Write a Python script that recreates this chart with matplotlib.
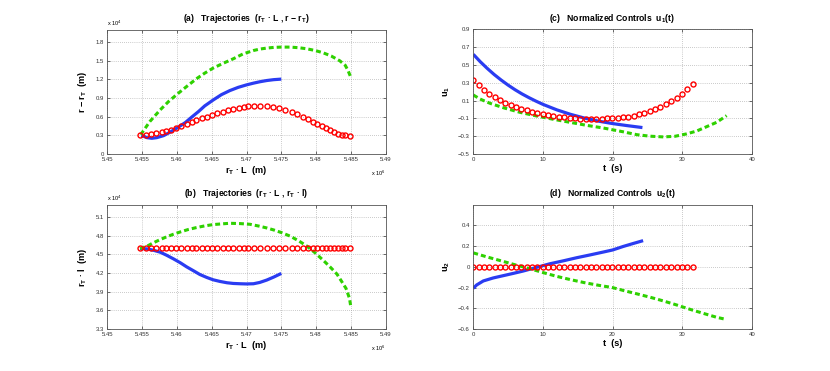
import matplotlib
matplotlib.use("Agg")
import matplotlib.pyplot as plt

plt.rcParams['font.family'] = ['Liberation Sans', 'DejaVu Sans']
plt.rcParams['mathtext.fontset'] = 'custom'
plt.rcParams['mathtext.rm'] = 'Liberation Sans'
plt.rcParams['mathtext.bf'] = 'Liberation Sans:bold'
plt.rcParams['mathtext.it'] = 'Liberation Sans:italic'

# ---- trajectories (x in 1e6 m, y in 1e4 m) ----
# red circles (42 nodes)
x_red = [5.4547, 5.4555, 5.4563, 5.4570, 5.4578, 5.4585, 5.4592, 5.4599, 5.4606, 5.4614,
         5.4621, 5.4628, 5.4636, 5.4643, 5.4650, 5.4658, 5.4666, 5.4673, 5.4681, 5.4689,
         5.4696, 5.4702, 5.4711, 5.4719, 5.4729, 5.4738, 5.4747, 5.4756, 5.4765, 5.4773,
         5.4781, 5.4788, 5.4795, 5.4802, 5.4809, 5.4814, 5.4820, 5.4826, 5.4831, 5.4837,
         5.4842, 5.4848]
h_red = [0.306, 0.312, 0.323, 0.333, 0.350, 0.371, 0.392, 0.419, 0.446, 0.479,
         0.511, 0.543, 0.575, 0.602, 0.629, 0.656, 0.683, 0.704, 0.726, 0.742,
         0.758, 0.769, 0.774, 0.774, 0.769, 0.758, 0.737, 0.710, 0.677, 0.640,
         0.602, 0.565, 0.522, 0.484, 0.446, 0.414, 0.382, 0.355, 0.328, 0.312,
         0.301, 0.290]
l_red = [4.6, 4.6, 4.6, 4.6, 4.6, 4.6, 4.6, 4.6, 4.6, 4.6,
         4.6, 4.6, 4.6, 4.6, 4.6, 4.6, 4.6, 4.6, 4.6, 4.6,
         4.6, 4.6, 4.6, 4.6, 4.6, 4.6, 4.6, 4.6, 4.6, 4.6,
         4.6, 4.6, 4.6, 4.6, 4.6, 4.6, 4.6, 4.6, 4.6, 4.6,
         4.6, 4.6]

# blue solid
x_blue_a = [5.4549, 5.4557, 5.4564, 5.4571, 5.4581, 5.4590, 5.4601, 5.4612, 5.4621, 5.4631,
            5.4640, 5.4652, 5.4664, 5.4676, 5.4688, 5.4700, 5.4710, 5.4719, 5.4729, 5.4739,
            5.4750]
h_blue = [0.300, 0.263, 0.253, 0.263, 0.296, 0.350, 0.425, 0.505, 0.591, 0.683,
          0.774, 0.868, 0.955, 1.020, 1.072, 1.112, 1.140, 1.162, 1.182, 1.196,
          1.205]
x_blue_b = [5.4547, 5.4557, 5.4566, 5.4576, 5.4585, 5.4595, 5.4605, 5.4614, 5.4624, 5.4633,
            5.4643, 5.4652, 5.4662, 5.4672, 5.4681, 5.4691, 5.4700, 5.4710, 5.4719, 5.4729,
            5.4739, 5.4750]
l_blue = [4.595, 4.589, 4.568, 4.536, 4.488, 4.429, 4.365, 4.300, 4.236, 4.177,
          4.129, 4.092, 4.065, 4.044, 4.033, 4.028, 4.025, 4.028, 4.049, 4.087,
          4.135, 4.194]

# green dashed
x_green_a = [5.4548, 5.4561, 5.4576, 5.4588, 5.4601, 5.4614, 5.4628, 5.4640, 5.4652, 5.4667,
             5.4681, 5.4695, 5.4710, 5.4719, 5.4729, 5.4739, 5.4750, 5.4763, 5.4775, 5.4786,
             5.4798, 5.4810, 5.4822, 5.4834, 5.4842, 5.4846, 5.4850]
h_green = [0.310, 0.521, 0.710, 0.844, 0.968, 1.086, 1.210, 1.301, 1.382, 1.462,
           1.532, 1.610, 1.665, 1.688, 1.704, 1.715, 1.720, 1.720, 1.710, 1.694,
           1.667, 1.629, 1.575, 1.500, 1.425, 1.339, 1.230]
x_green_b = [5.4547, 5.4557, 5.4566, 5.4576, 5.4585, 5.4595, 5.4605, 5.4616, 5.4628, 5.4640,
             5.4652, 5.4664, 5.4676, 5.4691, 5.4705, 5.4719, 5.4729, 5.4739, 5.4750, 5.4763,
             5.4775, 5.4786, 5.4798, 5.4810, 5.4820, 5.4830, 5.4837, 5.4843, 5.4848, 5.4850]
l_green = [4.595, 4.632, 4.686, 4.739, 4.782, 4.825, 4.862, 4.900, 4.932, 4.959,
           4.980, 4.991, 5.001, 4.996, 4.985, 4.953, 4.926, 4.894, 4.852, 4.793,
           4.718, 4.640, 4.531, 4.408, 4.300, 4.183, 4.060, 3.953, 3.792, 3.648]

# ---- controls ----
t_red = [0.0, 0.77, 1.54, 2.31, 3.07, 3.84, 4.61, 5.38, 6.15, 6.91,
         7.68, 8.45, 9.22, 9.99, 10.76, 11.52, 12.29, 13.06, 13.83, 14.60,
         15.37, 16.13, 16.90, 17.67, 18.44, 19.21, 19.98, 20.74, 21.51, 22.28,
         23.05, 23.82, 24.59, 25.35, 26.12, 26.89, 27.66, 28.43, 29.20, 29.96,
         30.73, 31.50]
u1_red = [0.328, 0.272, 0.219, 0.174, 0.137, 0.103, 0.077, 0.051, 0.028, 0.009,
          -0.009, -0.024, -0.039, -0.051, -0.062, -0.073, -0.081, -0.088, -0.096, -0.099,
          -0.103, -0.107, -0.107, -0.107, -0.105, -0.100, -0.095, -0.091, -0.086, -0.079,
          -0.069, -0.054, -0.039, -0.021, 0.002, 0.028, 0.058, 0.092, 0.133, 0.178,
          0.227, 0.283]
u2_red = [0.0, 0.0, 0.0, 0.0, 0.0, 0.0, 0.0, 0.0, 0.0, 0.0,
          0.0, 0.0, 0.0, 0.0, 0.0, 0.0, 0.0, 0.0, 0.0, 0.0,
          0.0, 0.0, 0.0, 0.0, 0.0, 0.0, 0.0, 0.0, 0.0, 0.0,
          0.0, 0.0, 0.0, 0.0, 0.0, 0.0, 0.0, 0.0, 0.0, 0.0,
          0.0, 0.0]

t_blue_c = [0, 1, 2, 3, 4, 5, 6, 7, 8, 9, 10, 12, 14, 16, 18, 20, 22, 24.3]
u1_blue = [0.620, 0.537, 0.462, 0.393, 0.331, 0.274, 0.222, 0.175, 0.133, 0.094,
           0.058, -0.004, -0.055, -0.097, -0.131, -0.158, -0.180, -0.203]
t_blue_d = [0, 0.48, 1.44, 2.87, 4.31, 5.75, 7.19, 9.10, 11.02, 12.93,
            14.85, 16.77, 18.68, 20.02, 21.5, 23.0, 24.4]
u2_blue = [-0.207, -0.175, -0.136, -0.107, -0.085, -0.063, -0.040, -0.005, 0.030, 0.058,
           0.088, 0.115, 0.143, 0.163, 0.196, 0.226, 0.253]

t_green_c = [0, 0.96, 2.39, 4.31, 6.71, 9.10, 11.50, 13.89, 16.29, 18.68,
             21.5, 23.5, 25.4, 27.30, 28.98, 30.65, 32.09, 33.53, 34.96, 36.4]
u1_green = [0.163, 0.118, 0.070, 0.020, -0.032, -0.073, -0.110, -0.144, -0.178, -0.208,
            -0.250, -0.283, -0.300, -0.308, -0.301, -0.274, -0.242, -0.193, -0.144, -0.069]
t_green_d = [0, 2, 4, 6, 8, 10, 12, 14, 16, 18,
             20, 21.56, 23.47, 25.39, 27.30, 29.22, 31.13, 33.05, 34.96, 36.3]
u2_green = [0.135, 0.095, 0.058, 0.020, -0.015, -0.055, -0.092, -0.124, -0.153, -0.178,
            -0.200, -0.228, -0.260, -0.293, -0.329, -0.368, -0.410, -0.449, -0.487, -0.507]

pos_ticks = [5.45, 5.455, 5.46, 5.465, 5.47, 5.475, 5.48, 5.485, 5.49]
pos_labels = ['5.45', '5.455', '5.46', '5.465', '5.47', '5.475', '5.48', '5.485', '5.49']

BLUE = '#2a3cf2'
GREEN = '#2ed100'
RED = '#ff0000'

fig = plt.figure(figsize=(8.3, 3.71), dpi=100)
W, H = 830.0, 371.0


def make_ax(left, top, right, bottom):
    return fig.add_axes([left / W, 1 - bottom / H, (right - left) / W, (bottom - top) / H])


def style(ax):
    ax.tick_params(direction='in', top=True, right=True, length=2.5, width=0.5,
                   labelsize=4.3, pad=2.5, colors='#333333')
    for s in ax.spines.values():
        s.set_linewidth(0.6)
        s.set_color('#555555')
    ax.grid(True, linestyle=(0, (1, 2)), color='#9a9a9a', linewidth=0.5)
    ax.set_axisbelow(True)


def draw(ax, xb, yb, xg, yg, xr, yr):
    ax.plot(xb, yb, '-', color=BLUE, lw=2.3, solid_capstyle='butt')
    ax.plot(xg, yg, color=GREEN, lw=2.2, dashes=(1.6, 1.0), dash_capstyle='butt')
    ax.plot(xr, yr, 'o', ms=3.6, mfc='none', mec=RED, mew=1.0)


lab = dict(fontsize=6.6, fontweight='bold')
tit = dict(fontsize=6.2, fontweight='bold', pad=6)

# (a)
ax = make_ax(107.3, 29.7, 385.7, 154)
style(ax)
draw(ax, x_blue_a, h_blue, x_green_a, h_green, x_red, h_red)
ax.set_xlim(5.45, 5.49)
ax.set_ylim(0, 2.0)
ax.set_xticks(pos_ticks)
ax.set_xticklabels(pos_labels)
ax.set_yticks([0, 0.3, 0.6, 0.9, 1.2, 1.5, 1.8])
ax.set_yticklabels(['0', '0.3', '0.6', '0.9', '1.2', '1.5', '1.8'])
ax.set_title(r'(a)   Trajectories  (r$_{\mathbf{T}}$ · L , r $\mathbf{-}$ r$_{\mathbf{T}}$)', **tit)
ax.set_xlabel(r'r$_{\mathbf{T}}$ · L  (m)', labelpad=1, **lab)
ax.set_ylabel(r'r $\mathbf{-}$ r$_{\mathbf{T}}$  (m)', labelpad=5, **lab)
ax.text(0.0, 1.015, r'x 10$^{\mathrm{4}}$', transform=ax.transAxes, fontsize=4, ha='left', va='bottom')
ax.text(1.0, -0.115, r'x 10$^{\mathrm{6}}$', transform=ax.transAxes, fontsize=4, ha='right', va='top')

# (b)
ax = make_ax(107.3, 204.7, 385.7, 329)
style(ax)
draw(ax, x_blue_b, l_blue, x_green_b, l_green, x_red, l_red)
ax.set_xlim(5.45, 5.49)
ax.set_ylim(3.3, 5.3)
ax.set_xticks(pos_ticks)
ax.set_xticklabels(pos_labels)
ax.set_yticks([3.3, 3.6, 3.9, 4.2, 4.5, 4.8, 5.1])
ax.set_yticklabels(['3.3', '3.6', '3.9', '4.2', '4.5', '4.8', '5.1'])
ax.set_title(r'(b)   Trajectories  (r$_{\mathbf{T}}$ · L , r$_{\mathbf{T}}$ · l)', **tit)
ax.set_xlabel(r'r$_{\mathbf{T}}$ · L  (m)', labelpad=1, **lab)
ax.set_ylabel(r'r$_{\mathbf{T}}$ · l  (m)', labelpad=5, **lab)
ax.text(0.0, 1.015, r'x 10$^{\mathrm{4}}$', transform=ax.transAxes, fontsize=4, ha='left', va='bottom')
ax.text(1.0, -0.115, r'x 10$^{\mathrm{6}}$', transform=ax.transAxes, fontsize=4, ha='right', va='top')

# (c)
ax = make_ax(473.3, 29.4, 751.7, 154)
style(ax)
draw(ax, t_blue_c, u1_blue, t_green_c, u1_green, t_red, u1_red)
ax.set_xlim(0, 40)
ax.set_ylim(-0.5, 0.9)
ax.set_xticks([0, 10, 20, 30, 40])
ax.set_yticks([-0.5, -0.3, -0.1, 0.1, 0.3, 0.5, 0.7, 0.9])
ax.set_yticklabels(['\u22120.5', '\u22120.3', '\u22120.1', '0.1', '0.3', '0.5', '0.7', '0.9'])
ax.set_title(r'(c)   Normalized Controls  u$_{\mathbf{1}}$(t)', **tit)
ax.set_xlabel('t  (s)', labelpad=1, **lab)
ax.set_ylabel(r'u$_{\mathbf{1}}$', labelpad=4, **lab)

# (d)
ax = make_ax(473.3, 204.7, 751.7, 329)
style(ax)
draw(ax, t_blue_d, u2_blue, t_green_d, u2_green, t_red, u2_red)
ax.set_xlim(0, 40)
ax.set_ylim(-0.6, 0.6)
ax.set_xticks([0, 10, 20, 30, 40])
ax.set_yticks([-0.6, -0.4, -0.2, 0, 0.2, 0.4])
ax.set_yticklabels(['\u22120.6', '\u22120.4', '\u22120.2', '0', '0.2', '0.4'])
ax.set_title(r'(d)   Normalized Controls  u$_{\mathbf{2}}$(t)', **tit)
ax.set_xlabel('t  (s)', labelpad=1, **lab)
ax.set_ylabel(r'u$_{\mathbf{2}}$', labelpad=4, **lab)

fig.savefig('out.png', dpi=100)
